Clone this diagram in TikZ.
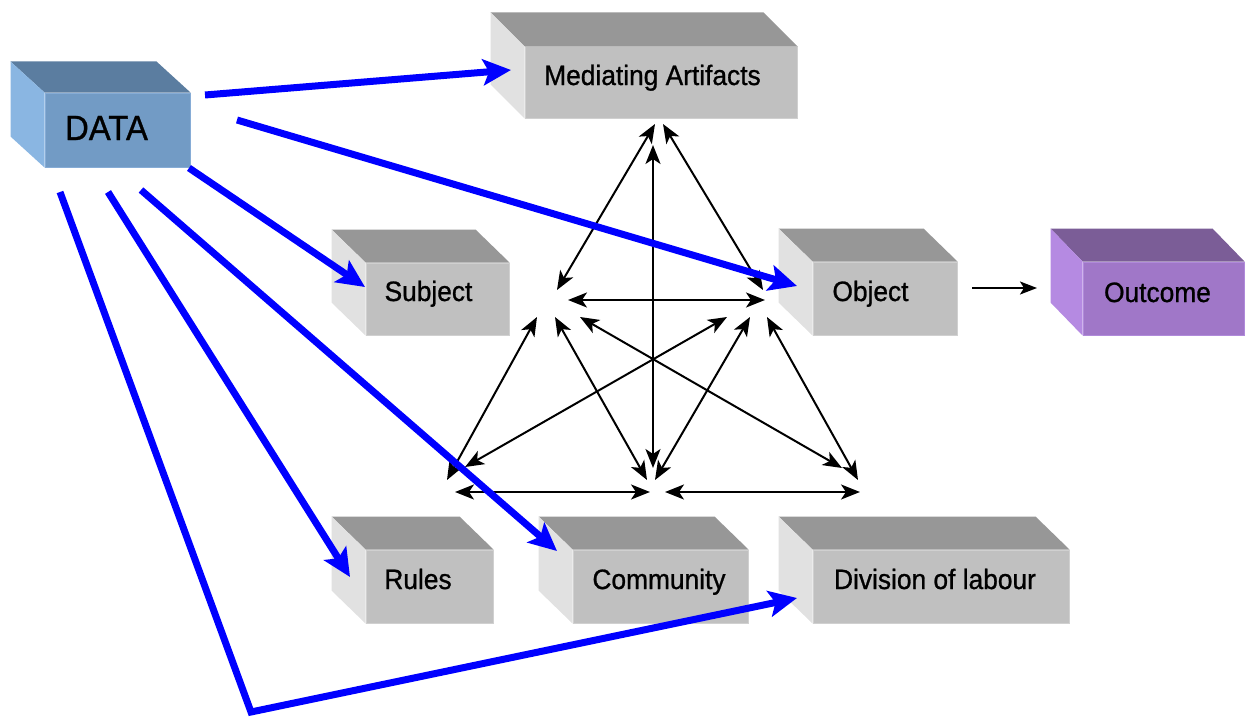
\documentclass[tikz,border=0pt]{standalone}
\usepackage{fontspec}
\setmainfont{Liberation Sans}[FakeStretch=0.94,FakeBold=0.9]
\usetikzlibrary{arrows.meta,calc}

\definecolor{greyfront}{HTML}{C0C0C0}
\definecolor{greytop}{HTML}{979797}
\definecolor{greyside}{HTML}{E1E1E1}
\definecolor{greyedge}{HTML}{D0D0D0}
\definecolor{datafront}{HTML}{729BC5}
\definecolor{datatop}{HTML}{5B7DA0}
\definecolor{dataside}{HTML}{8AB6E2}
\definecolor{dataedge}{HTML}{86ACD6}
\definecolor{outfront}{HTML}{A077C8}
\definecolor{outtop}{HTML}{7B5D97}
\definecolor{outside}{HTML}{B58AE2}
\definecolor{outedge}{HTML}{B08ADA}
\definecolor{linkblue}{HTML}{0000FF}

% top and left faces of a cuboid whose front face is node #1
\newcommand\cubefaces[5]{%
  \fill[#2] (#1.north west) -- ++(-#4,-#5) -- ([shift={(-#4,-#5)}]#1.north east) -- (#1.north east) -- cycle;
  \fill[#3] (#1.north west) -- ++(-#4,-#5) -- ([shift={(-#4,-#5)}]#1.south west) -- (#1.south west) -- cycle;
}

\tikzset{
  gface/.style={fill=greyfront, draw=greyedge, line width=1pt, inner sep=0pt},
  dface/.style={fill=datafront, draw=dataedge, line width=1pt, inner sep=0pt},
  oface/.style={fill=outfront, draw=outedge, line width=1pt, inner sep=0pt},
  lbl/.style={anchor=base, inner sep=0pt, text=black, font=\fontsize{28}{30}\selectfont},
  biglbl/.style={anchor=base, inner sep=0pt, text=black, font=\fontsize{35}{38}\selectfont},
  feed/.style={draw=linkblue, line width=7pt, -{Stealth[length=28pt,width=26pt,inset=6pt]}},
  link/.style={draw=black, line width=2pt, {Stealth[length=19pt,width=15pt,inset=5pt]}-{Stealth[length=19pt,width=15pt,inset=5pt]}},
  onelink/.style={draw=black, line width=2pt, -{Stealth[length=17pt,width=13pt,inset=4pt]}},
}

\begin{document}
\begin{tikzpicture}[x=1pt,y=-1pt]
\useasboundingbox (0,0) rectangle (1245,717);

% front faces
\node[dface, minimum width=145pt, minimum height=74pt] (data) at (117.5,130) {};
\node[gface, minimum width=272pt, minimum height=71pt] (med) at (661,82.5) {};
\node[gface, minimum width=143pt, minimum height=72pt] (subj) at (437.5,299) {};
\node[gface, minimum width=144pt, minimum height=73pt] (obj) at (885,298.5) {};
\node[oface, minimum width=161pt, minimum height=73pt] (outc) at (1163.5,298.5) {};
\node[gface, minimum width=127pt, minimum height=73pt] (rules) at (429.5,586.5) {};
\node[gface, minimum width=175pt, minimum height=73pt] (comm) at (660.5,586.5) {};
\node[gface, minimum width=256pt, minimum height=73pt] (div) at (941,586.5) {};

% top and side faces
\cubefaces{data}{datatop}{dataside}{34}{31}
\cubefaces{med}{greytop}{greyside}{34}{34}
\cubefaces{subj}{greytop}{greyside}{34}{33}
\cubefaces{obj}{greytop}{greyside}{34}{33}
\cubefaces{outc}{outtop}{outside}{32}{33}
\cubefaces{rules}{greytop}{greyside}{34}{33}
\cubefaces{comm}{greytop}{greyside}{34}{33}
\cubefaces{div}{greytop}{greyside}{34}{33}

% labels
\node[biglbl] (data-t) at (106.5,140) {DATA};
\node[lbl] (med-t) at (652.5,85) {Mediating Artifacts};
\node[lbl] (subj-t) at (428.5,301) {Subject};
\node[lbl] (obj-t) at (870.5,301) {Object};
\node[lbl] (outc-t) at (1157.5,302) {Outcome};
\node[lbl] (rules-t) at (418,589) {Rules};
\node[lbl] (comm-t) at (659,589) {Community};
\node[lbl] (div-t) at (935,589) {Division of labour};

% corners of the activity triangles
\coordinate (tl) at (655,124);
\coordinate (tr) at (663,124);
\coordinate (tv) at (653,145);
\coordinate (sa) at (557,290);
\coordinate (sh) at (568,300);
\coordinate (oa) at (763,290);
\coordinate (oh) at (765,300);
\coordinate (s1) at (537,317);
\coordinate (s2) at (555,317);
\coordinate (s3) at (580,317);
\coordinate (o1) at (727,317);
\coordinate (o2) at (750,317);
\coordinate (o3) at (767,317);
\coordinate (r1) at (447,480);
\coordinate (r2) at (465,467);
\coordinate (rh) at (455,492);
\coordinate (c1) at (647,480);
\coordinate (c2) at (655,480);
\coordinate (cv) at (653,468);
\coordinate (chl) at (650,492);
\coordinate (chr) at (665,492);
\coordinate (d1) at (842,468);
\coordinate (d2) at (858,480);
\coordinate (dh) at (860,492);

\draw[link] (tl) -- (sa);
\draw[link] (tr) -- (oa);
\draw[link] (tv) -- (cv);
\draw[link] (sh) -- (oh);
\draw[link] (s1) -- (r1);
\draw[link] (s2) -- (c1);
\draw[link] (s3) -- (d1);
\draw[link] (o1) -- (r2);
\draw[link] (o2) -- (c2);
\draw[link] (o3) -- (d2);
\draw[link] (rh) -- (chl);
\draw[link] (chr) -- (dh);

% object to outcome
\coordinate (ob-out) at (972,288);
\coordinate (out-in) at (1037,288);
\draw[onelink] (ob-out) -- (out-in);

% data feeds
\coordinate (f1) at (205,95);
\coordinate (f2) at (237,120);
\coordinate (f3) at (189,168);
\coordinate (f4) at (141,190);
\coordinate (f5) at (108,192);
\coordinate (f6) at (60,192);
\coordinate (bend) at (251,712);
\coordinate (med-in) at (511,70);
\coordinate (obj-in) at (797,286);
\coordinate (subj-in) at (365,287);
\coordinate (comm-in) at (557,551);
\coordinate (rules-in) at (350,577);
\coordinate (div-in) at (797,598);

\draw[feed] (f1) -- (med-in);
\draw[feed] (f2) -- (obj-in);
\draw[feed] (f3) -- (subj-in);
\draw[feed] (f4) -- (comm-in);
\draw[feed] (f5) -- (rules-in);
\draw[feed] (f6) -- (bend) -- (div-in);
\end{tikzpicture}
\end{document}
